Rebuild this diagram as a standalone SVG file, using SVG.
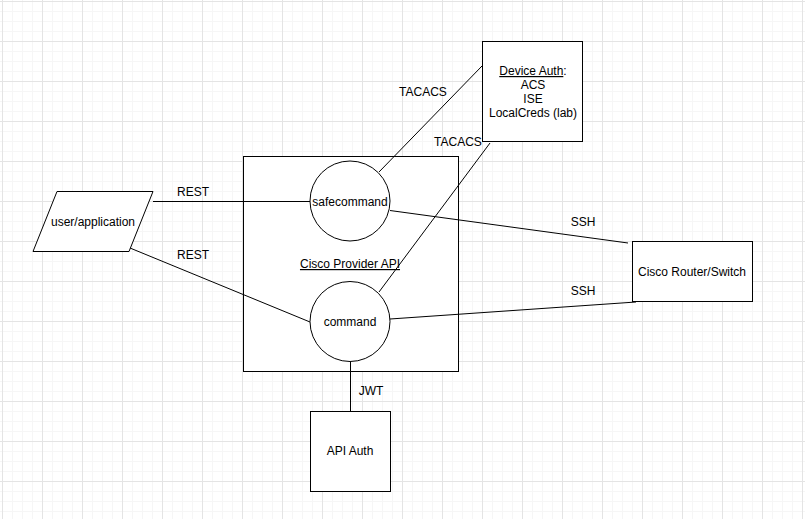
<svg xmlns="http://www.w3.org/2000/svg" width="805" height="519" viewBox="0 0 805 519">
<style>
.box{fill:#fff;stroke:#000;stroke-width:1}
.edge{fill:none;stroke:#000;stroke-width:1}
text{font-family:"Liberation Sans",Arial,sans-serif;font-size:12px;fill:#000;text-anchor:middle}
.u{text-decoration:underline}
</style>
<defs>
<pattern id="grid" patternUnits="userSpaceOnUse" x="2" y="1" width="40" height="40">
<rect x="10" y="0" width="1" height="40" fill="#f6f6f6"/>
<rect x="20" y="0" width="1" height="40" fill="#f6f6f6"/>
<rect x="30" y="0" width="1" height="40" fill="#f6f6f6"/>
<rect x="0" y="10" width="40" height="1" fill="#f6f6f6"/>
<rect x="0" y="20" width="40" height="1" fill="#f6f6f6"/>
<rect x="0" y="30" width="40" height="1" fill="#f6f6f6"/>
<rect x="0" y="0" width="1" height="40" fill="#e4e4e4"/>
<rect x="0" y="0" width="40" height="1" fill="#e4e4e4"/>
</pattern>
</defs>
<rect width="805" height="519" fill="#fff"/>
<rect width="805" height="519" fill="url(#grid)"/>

<g id="cisco-provider-api">
<rect class="box" x="243.5" y="156.5" width="215" height="215"/>
<text class="u" x="350" y="268">Cisco Provider API</text>
</g>

<g id="connectors">
<line class="edge" x1="153" y1="201.5" x2="310" y2="201.5"/>
<line class="edge" x1="130" y1="248" x2="310" y2="322"/>
<line class="edge" x1="379" y1="172" x2="482" y2="66"/>
<line class="edge" x1="379" y1="292" x2="490" y2="143"/>
<line class="edge" x1="390" y1="210.5" x2="628" y2="243"/>
<line class="edge" x1="390" y1="319" x2="636" y2="302"/>
<line class="edge" x1="350.5" y1="362" x2="350.5" y2="411"/>
<text x="193" y="196">REST</text>
<text x="193" y="259">REST</text>
<text x="423" y="96">TACACS</text>
<text x="458" y="146">TACACS</text>
<text x="583" y="226">SSH</text>
<text x="583" y="295">SSH</text>
<text x="371" y="395">JWT</text>
</g>

<g id="user-application">
<polygon class="box" points="57,191.5 153,191.5 129,251.5 33,251.5"/>
<text x="93" y="226">user/application</text>
</g>

<g id="safecommand">
<circle class="box" cx="350" cy="201" r="40"/>
<text x="350" y="206">safecommand</text>
</g>

<g id="command">
<circle class="box" cx="350" cy="321.5" r="40"/>
<text x="350" y="326">command</text>
</g>

<g id="device-auth">
<rect class="box" x="482.5" y="41.5" width="100" height="100"/>
<text x="533" y="75"><tspan class="u">Device Auth</tspan>:</text>
<text x="533" y="89">ACS</text>
<text x="533" y="103">ISE</text>
<text x="533" y="117">LocalCreds (lab)</text>
</g>

<g id="cisco-router-switch">
<rect class="box" x="632.5" y="241.5" width="120" height="60"/>
<text x="692" y="276">Cisco Router/Switch</text>
</g>

<g id="api-auth">
<rect class="box" x="310.5" y="411.5" width="80" height="80"/>
<text x="350" y="455">API Auth</text>
</g>
</svg>
